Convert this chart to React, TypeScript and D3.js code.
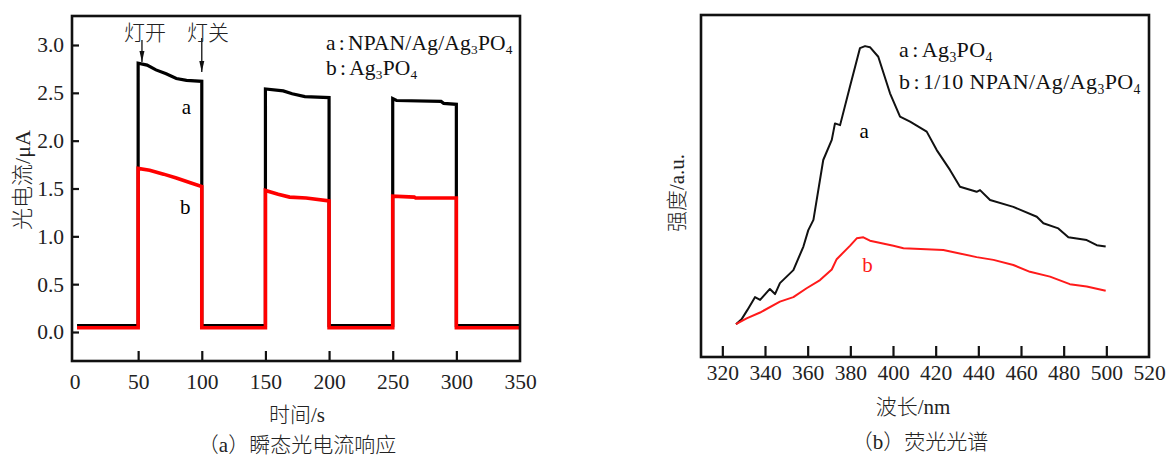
import React, { useEffect, useRef } from "react";
import * as d3 from "d3";

// (a) transient photocurrent, time in s, current in μA
const timeTicks = [0, 50, 100, 150, 200, 250, 300, 350];
const currentTicks = [0, 0.5, 1.0, 1.5, 2.0, 2.5, 3.0];

// a: NPAN/Ag/Ag3PO4
const currentA: [number, number][] = [
  [2, 0.066], [50, 0.066], [50, 2.81], [57, 2.79], [64, 2.74], [72, 2.7], [80, 2.65], [88, 2.63], [100, 2.62], [100, 0.066],
  [150, 0.066], [150, 2.54], [164, 2.52], [171, 2.49], [181, 2.46], [200, 2.45], [200, 0.066],
  [250, 0.066], [250, 2.44], [253, 2.42], [288, 2.41], [290, 2.39], [300, 2.38], [300, 0.066], [350, 0.066],
];

// b: Ag3PO4
const currentB: [number, number][] = [
  [2, 0.045], [50, 0.045], [50, 1.71], [59, 1.69], [70, 1.65], [80, 1.61], [91, 1.56], [100, 1.52], [100, 0.045],
  [150, 0.045], [150, 1.48], [160, 1.44], [169, 1.41], [182, 1.4], [200, 1.37], [200, 0.045],
  [250, 0.045], [250, 1.42], [267, 1.41], [268, 1.4], [300, 1.4], [300, 0.045], [350, 0.045],
];

// (b) PL spectra, wavelength in nm, intensity in a.u.
const waveTicks = [320, 340, 360, 380, 400, 420, 440, 460, 480, 500, 520];

// a: Ag3PO4
const plA: [number, number][] = [
  [326.4, 9.6], [329, 11.0], [331.7, 13.7], [335.3, 17.5], [337.7, 16.7], [342.3, 19.9], [344.7, 18.4], [347, 21.6],
  [353.3, 25.4], [358, 32.3], [360.3, 37.1], [362.7, 40.1], [367.3, 57.6], [371.3, 63.5], [372.8, 68.3], [375.2, 67.8],
  [379.8, 79.0], [384.5, 90.3], [386.9, 90.9], [389.2, 90.6], [393.1, 87.8], [398.6, 77.1], [403.3, 70.3], [408, 68.8],
  [415.8, 65.9], [420.5, 60.5], [426.7, 54.7], [431.4, 49.8], [439.2, 48.3], [440.8, 48.8], [445.5, 45.9], [456.4, 43.9],
  [467.4, 41.0], [470.5, 39.1], [477.5, 37.6], [482.2, 35.0], [490.8, 34.2], [495.5, 32.7], [499.7, 32.3],
];

// b: 1/10 NPAN/Ag/Ag3PO4
const plB: [number, number][] = [
  [326.4, 9.6], [331.4, 11.3], [337.7, 13.0], [347, 16.2], [353.3, 17.5], [359.5, 20.1], [365.8, 22.5], [371.3, 25.6],
  [373.6, 28.6], [379.8, 32.5], [383, 34.7], [386.1, 35.0], [389.2, 34.0], [400.2, 32.5], [404.9, 31.8], [423.6, 31.3],
  [439.2, 29.2], [447.1, 28.4], [456.4, 26.9], [464.2, 24.9], [473.6, 23.5], [482.9, 21.3], [490.8, 20.6], [499.7, 19.4],
];

const serif = "'Liberation Serif', 'Times New Roman', serif";
const mixed = "'Liberation Serif', 'Noto Sans CJK SC', serif";

// text with "_3" subscripts and a narrow colon
function richText(g, x, y, str, size, fill = "#111", spacing = 0.4) {
  const t = g.append("text")
    .attr("x", x).attr("y", y + size * 0.33)
    .attr("font-family", serif).attr("font-size", size).attr("fill", fill)
    .attr("letter-spacing", spacing);
  const parts = str.split(/(_\d|:)/).filter(p => p !== "");
  let shiftBack = false;
  let dxNext = 0;
  parts.forEach(p => {
    const s = t.append("tspan");
    if (p.startsWith("_")) {
      s.attr("font-size", size * 0.62).attr("dy", size * 0.2).text(p.slice(1));
      shiftBack = true;
      return;
    }
    if (shiftBack) { s.attr("dy", -size * 0.2); shiftBack = false; }
    if (p === ":") { s.attr("dx", 3).text(":"); dxNext = 3; return; }
    if (dxNext) { s.attr("dx", dxNext); dxNext = 0; }
    s.text(p);
  });
}

function styleAxis(g, size) {
  g.select(".domain").remove();
  g.selectAll(".tick line").attr("stroke", "#111").attr("stroke-width", 2.2);
  g.selectAll(".tick text").attr("font-family", serif).attr("font-size", size).attr("fill", "#222");
}

const App = () => {
  const svgRef = useRef(null);

  useEffect(() => {
    const svg = d3.select(svgRef.current);
    svg.selectAll("*").remove();

    // ---------- (a) ----------
    const fa = { left: 72, top: 16, right: 520, bottom: 361 };
    const x = d3.scaleLinear().domain([0, 350]).range([74.5, 520]);
    const y = d3.scaleLinear().domain([0, 3]).range([332, 45]);

    const gxa = svg.append("g").attr("transform", `translate(0,${fa.bottom})`)
      .call(d3.axisBottom(x).tickValues(timeTicks).tickSize(-10).tickPadding(13));
    styleAxis(gxa, 21.5);
    gxa.selectAll(".tick").filter(d => d === 0 || d === 350).select("line").remove();

    const gya = svg.append("g").attr("transform", `translate(${fa.left},0)`)
      .call(d3.axisLeft(y).tickValues(currentTicks).tickSize(-7).tickPadding(8).tickFormat(d3.format(".1f")));
    styleAxis(gya, 21.5);

    const lineA = d3.line().x(d => x(d[0])).y(d => y(d[1]));
    svg.append("path").attr("d", lineA(currentA)).attr("fill", "none")
      .attr("stroke", "#000").attr("stroke-width", 3.2).attr("stroke-linejoin", "miter");
    svg.append("path").attr("d", lineA(currentB)).attr("fill", "none")
      .attr("stroke", "#ff0000").attr("stroke-width", 3.6).attr("stroke-linejoin", "miter");

    svg.append("rect")
      .attr("x", fa.left).attr("y", fa.top)
      .attr("width", fa.right - fa.left).attr("height", fa.bottom - fa.top)
      .attr("fill", "none").attr("stroke", "#111").attr("stroke-width", 2.6);

    // light on / off arrows
    [[53, 40, 62], [100, 38, 72]].forEach(([t, y0, y1]) => {
      const ax = x(t);
      svg.append("line").attr("x1", ax).attr("x2", ax).attr("y1", y0).attr("y2", y1)
        .attr("stroke", "#111").attr("stroke-width", 1.3);
      svg.append("path")
        .attr("d", `M${ax},${y1} L${ax - 2.5},${y1 - 11} L${ax + 2.5},${y1 - 11} Z`)
        .attr("fill", "#111");
    });
    svg.append("text").attr("x", 145).attr("y", 33).attr("text-anchor", "middle")
      .attr("dominant-baseline", "central").attr("font-family", mixed).attr("font-size", 21)
      .attr("font-weight", 300).attr("fill", "#222").text("灯开");
    svg.append("text").attr("x", 208).attr("y", 33).attr("text-anchor", "middle")
      .attr("dominant-baseline", "central").attr("font-family", mixed).attr("font-size", 21)
      .attr("font-weight", 300).attr("fill", "#222").text("灯关");

    richText(svg, 326, 43, "a:NPAN/Ag/Ag_3PO_4", 21.5, "#111", 0.2);
    richText(svg, 326, 68, "b:Ag_3PO_4", 21.5, "#111", 0.2);

    svg.append("text").attr("x", x(88)).attr("y", y(2.35)).attr("text-anchor", "middle")
      .attr("dominant-baseline", "central").attr("font-family", serif).attr("font-size", 21).text("a");
    svg.append("text").attr("x", x(87)).attr("y", y(1.31)).attr("text-anchor", "middle")
      .attr("dominant-baseline", "central").attr("font-family", serif).attr("font-size", 21).text("b");

    svg.append("text").attr("transform", "translate(22,180) rotate(-90)").attr("text-anchor", "middle")
      .attr("dominant-baseline", "central").attr("font-family", mixed).attr("font-size", 22)
      .attr("font-weight", 300).attr("fill", "#222").text("光电流/μA");
    svg.append("text").attr("x", 297).attr("y", 415).attr("text-anchor", "middle")
      .attr("dominant-baseline", "central").attr("font-family", mixed).attr("font-size", 21)
      .attr("font-weight", 300).attr("fill", "#222").text("时间/s");
    svg.append("text").attr("x", 297).attr("y", 445).attr("text-anchor", "middle")
      .attr("dominant-baseline", "central").attr("font-family", mixed).attr("font-size", 21)
      .attr("font-weight", 300).attr("fill", "#222").text("（a）瞬态光电流响应");

    // ---------- (b) ----------
    const fb = { left: 701, top: 15, right: 1149, bottom: 357 };
    const xw = d3.scaleLinear().domain([310, 520]).range([fb.left, fb.right]);
    const yi = d3.scaleLinear().domain([0, 100]).range([fb.bottom, fb.top]);

    const gxb = svg.append("g").attr("transform", `translate(0,${fb.bottom})`)
      .call(d3.axisBottom(xw).tickValues(waveTicks).tickSize(-11).tickPadding(8));
    styleAxis(gxb, 21.5);
    gxb.selectAll(".tick").filter(d => d === 520).select("line").remove();

    const lineB = d3.line().x(d => xw(d[0])).y(d => yi(d[1]));
    svg.append("path").attr("d", lineB(plA)).attr("fill", "none")
      .attr("stroke", "#111").attr("stroke-width", 2).attr("stroke-linejoin", "round");
    svg.append("path").attr("d", lineB(plB)).attr("fill", "none")
      .attr("stroke", "#ff1a1a").attr("stroke-width", 2).attr("stroke-linejoin", "round");

    svg.append("rect")
      .attr("x", fb.left).attr("y", fb.top)
      .attr("width", fb.right - fb.left).attr("height", fb.bottom - fb.top)
      .attr("fill", "none").attr("stroke", "#111").attr("stroke-width", 2.6);

    richText(svg, 899, 50, "a:Ag_3PO_4", 22);
    richText(svg, 899, 82, "b:1/10 NPAN/Ag/Ag_3PO_4", 22);

    svg.append("text").attr("x", xw(386.5)).attr("y", yi(66)).attr("text-anchor", "middle")
      .attr("dominant-baseline", "central").attr("font-family", serif).attr("font-size", 21).text("a");
    svg.append("text").attr("x", xw(388)).attr("y", yi(27)).attr("text-anchor", "middle")
      .attr("dominant-baseline", "central").attr("font-family", serif).attr("font-size", 21)
      .attr("fill", "#ff1a1a").text("b");

    svg.append("text").attr("transform", "translate(677,193) rotate(-90)").attr("text-anchor", "middle")
      .attr("dominant-baseline", "central").attr("font-family", mixed).attr("font-size", 21)
      .attr("font-weight", 300).attr("fill", "#222").text("强度/a.u.");
    svg.append("text").attr("x", 913).attr("y", 407).attr("text-anchor", "middle")
      .attr("dominant-baseline", "central").attr("font-family", mixed).attr("font-size", 21)
      .attr("font-weight", 300).attr("fill", "#222").text("波长/nm");
    svg.append("text").attr("x", 920).attr("y", 442).attr("text-anchor", "middle")
      .attr("dominant-baseline", "central").attr("font-family", mixed).attr("font-size", 21)
      .attr("font-weight", 300).attr("fill", "#222").text("（b）荧光光谱");
  }, []);

  return (
    <svg
      ref={svgRef}
      width={1168}
      height={458}
      style={{ position: "absolute", left: 0, top: 0, background: "#fff" }}
    ></svg>
  );
};

export default App;
